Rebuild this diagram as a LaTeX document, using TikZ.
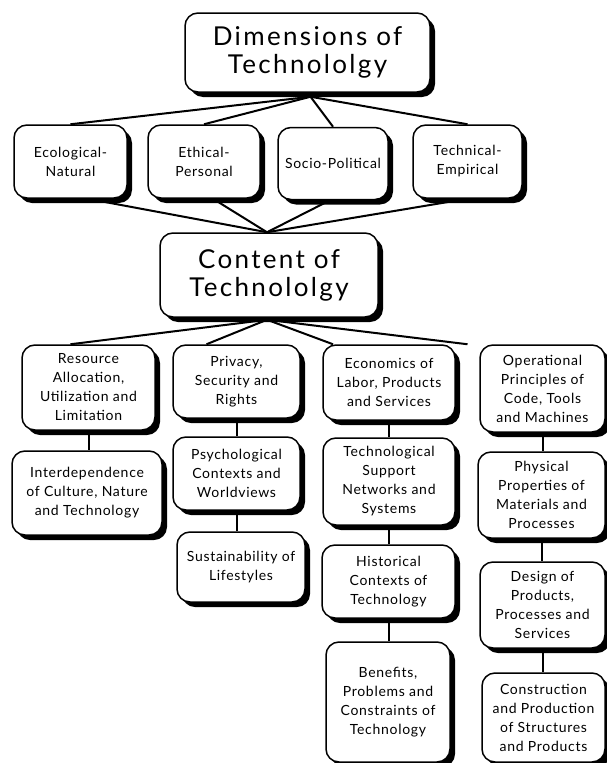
\documentclass[tikz,border=0pt]{standalone}
\usepackage{fontspec}
\setmainfont{Lato}
\newfontfamily\boxfont[LetterSpace=5]{Lato}
\newfontfamily\titlefont[LetterSpace=9]{Lato}
\usetikzlibrary{shadows,calc}
\pgfdeclarelayer{background}
\pgfsetlayers{background,main}
\tikzset{
  box/.style={draw=black, line width=1.5pt, fill=white, rounded corners=13pt,
    align=center, inner sep=2pt,
    font=\boxfont\fontsize{14}{19}\selectfont,
    drop shadow={shadow xshift=5pt, shadow yshift=-5pt, opacity=1, fill=black}},
  bigbox/.style={box, font=\titlefont\fontsize{26}{28}\selectfont},
  link/.style={draw=black, line width=2pt},
}
\newcommand{\bx}[6]{% name, x, y, width, height, text
  \node[box, minimum width=#4pt, minimum height=#5pt] (#1) at (#2,#3) {#6};}
\begin{document}
\begin{tikzpicture}[x=1pt, y=-1pt]
\useasboundingbox (0,0) rectangle (607,763);

% ---- title ----
\node[bigbox, minimum width=245pt, minimum height=79pt] (dim) at (307.5,52.5)
  {Dimensions of\\Technololgy};

% ---- dimensions ----
\bx{d1}{70.5}{161.5}{113}{73}{Ecological-\\Natural}
\bx{d2}{204}{161.5}{112}{73}{Ethical-\\Personal}
\bx{d3}{333}{163.5}{110}{72}{Socio-Political}
\bx{d4}{467.5}{161.5}{109}{73}{Technical-\\Empirical}

% ---- content ----
\node[bigbox, minimum width=218pt, minimum height=84pt] (cont) at (269,275)
  {Content of\\Technololgy};

% ---- column 1 ----
\bx{a1}{88.5}{387.5}{133}{85}{Resource\\Allocation,\\Utilization and\\Limitation}
\bx{a2}{87}{493}{150}{84}{Interdependence\\of Culture, Nature\\and Technology}
% ---- column 2 ----
\bx{b1}{236.5}{381.5}{127}{73}{Privacy,\\Security and\\Rights}
\bx{b2}{236.5}{473.5}{127}{73}{Psychological\\Contexts and\\Worldviews}
\bx{b3}{241}{567}{128}{70}{Sustainability of\\Lifestyles}
% ---- column 3 ----
\bx{c1}{389}{382.5}{132}{75}{Economics of\\Labor, Products\\and Services}
\bx{c2}{389}{481.5}{132}{87}{Technological\\Support\\Networks and\\Systems}
\bx{c3}{388.5}{581.5}{133}{73}{Historical\\Contexts of\\Technology}
\bx{c4}{388}{702}{124}{120}{Benefits,\\Problems and\\Constraints of\\Technology}
% ---- column 4 ----
\bx{e1}{542.5}{388.5}{125}{87}{Operational\\Principles of\\Code, Tools\\and Machines}
\bx{e2}{541.5}{495}{127}{86}{Physical\\Properties of\\Materials and\\Processes}
\bx{e3}{542.5}{605}{125}{86}{Design of\\Products,\\Processes and\\Services}
\bx{e4}{543.5}{717.5}{123}{89}{Construction\\and Production\\of Structures\\and Products}

% ---- connectors, kept behind the boxes ----
\begin{pgfonlayer}{background}
  \coordinate (topfoot) at ($(dim.south)+(3,4)$);
  \coordinate (conthead) at ($(cont.north)+(-2,0)$);
  \coordinate (contfoot) at ($(cont.south)+(-2,2)$);
  \foreach \n in {d1,d2,d3,d4}
    \draw[link] (topfoot) -- (\n.north);
  \draw[link] ($(d1.south)+(17,0)$) -- (conthead);
  \draw[link] ($(d2.south)+(9,0)$) -- (conthead);
  \draw[link] ($(d3.south)+(-3,0)$) -- (conthead);
  \draw[link] ($(d4.south)+(0,0)$) -- (conthead);
  \draw[link] (contfoot) -- ($(a1.north)+(-18,0)$);
  \draw[link] (contfoot) -- ($(b1.north)+(-30,0)$);
  \draw[link] (contfoot) -- ($(c1.north)+(-56,0)$);
  \draw[link] (contfoot) -- ($(e1.north)+(-75,0)$);
  \foreach \u/\l in {a1/a2,b1/b2,b2/b3,c1/c2,c2/c3,c3/c4,e1/e2,e2/e3,e3/e4}
    \draw[link] (\u.south) -- (\u.south |- \l.north);
\end{pgfonlayer}
\end{tikzpicture}
\end{document}
